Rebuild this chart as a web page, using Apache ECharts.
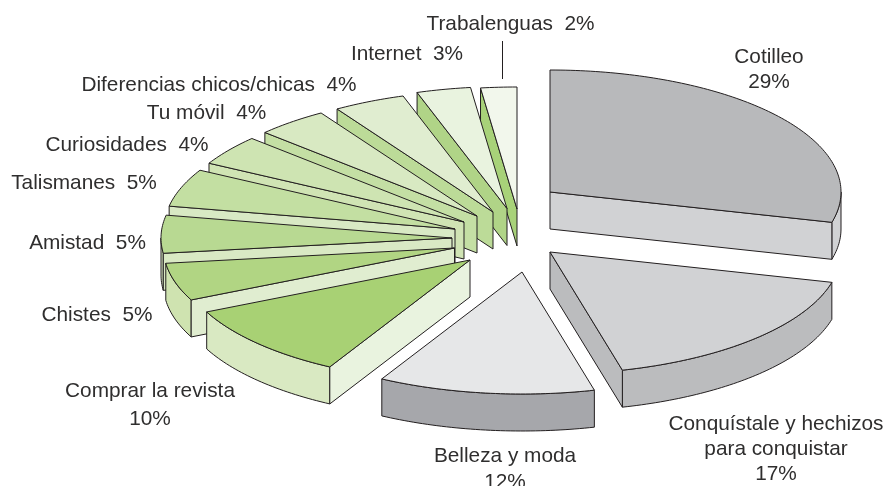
<!DOCTYPE html>
<html lang="es">
	<head>
		<meta charset="UTF-8">
		<title>pie</title>
		<style>
			html, body { margin: 0; padding: 0; background: #fff; }
		</style>
	</head>
	<body>
		<div id="chart" style="width:886px; height:486px"></div>
		<script src="https://cdn.jsdelivr.net/npm/echarts@6/dist/echarts.min.js"></script>
		<script>
			// porcentajes, empezando arriba y en sentido horario
			var categories = ['Cotilleo', 'Conquístale y hechizos para conquistar', 'Belleza y moda', 'Comprar la revista', 'Chistes', 'Amistad', 'Talismanes', 'Curiosidades', 'Tu móvil', 'Diferencias chicos/chicas', 'Internet', 'Trabalenguas'];
			var values = [29, 17, 12, 10, 5, 5, 5, 4, 4, 4, 3, 2];

			// textos tal como salen en el dibujo
			var labelLines = [
				['Cotilleo', '29%'],
				['Conquístale y hechizos', 'para conquistar', '17%'],
				['Belleza y moda', '12%'],
				['Comprar la revista', '10%'],
				['Chistes  5%'],
				['Amistad  5%'],
				['Talismanes  5%'],
				['Curiosidades  4%'],
				['Tu móvil  4%'],
				['Diferencias chicos/chicas  4%'],
				['Internet  3%'],
				['Trabalenguas  2%']
			];

			// colores: cara de arriba, corte visible, borde exterior
			var topColors = ['#b8b9bb', '#d1d2d4', '#e6e7e8', '#a8d174', '#b1d583', '#b8d992', '#c3dfa2', '#cee4b2', '#d8e9c2', '#e0edd0', '#e9f3df', '#f2f7ec'];
			var sideColors = ['#d1d2d4', '#bbbcbe', '#a6a7ab', '#e9f3df', '#e0edd0', '#d9e9c4', '#d8e9c4', '#d0e4b4', '#c4dfa4', '#bcdb98', '#b0d487', '#a8d279'];
			var rimColors = ['#d1d2d4', '#bbbcbe', '#a6a7ab', '#d9e9c2', '#cfe3b0', '#d9e9c4', '#d8e9c4', '#d0e4b4', '#c4dfa4', '#bcdb98', '#b0d487', '#a8d279'];

			// geometria de la tarta
			var pieCenter = [500, 230];
			var radiusX = 291;
			var radiusY = 122;
			var thickness = 37;
			var lineColor = '#231f20';
			// desplazamiento de cada porcion respecto al centro
			var explode = [[50, -38], [50, 22], [22, 42], [-30, 30], [-45.5, 18], [-48, 8], [-45, -1], [-36, -8], [-23, -14], [-7, -18], [7, -21.5], [17, -21]];

			// posicion de cada bloque de texto [x centro, y primera linea, salto de linea]
			var labelPos = [[769, 57, 25], [776, 424, 25], [505, 456, 26], [150, 391, 28], [97, 315, 0], [87.5, 243, 0], [84, 183, 0], [127, 145, 0], [206.5, 113, 0], [219, 85, 0], [407, 54, 0], [510.5, 24, 0]];
			var leader = { x: 502.5, y1: 41, y2: 79 };

			// angulo acumulado de cada porcion
			var total = values.reduce(function (a, b) { return a + b; }, 0);
			var startAngle = [];
			var acc = 0;
			values.forEach(function (v) {
				startAngle.push(acc / total * 360);
				acc += v;
			});

			function rimPoint(c, deg, dy) {
				var r = deg * Math.PI / 180;
				return [c[0] + radiusX * Math.sin(r), c[1] - radiusY * Math.cos(r) + (dy || 0)];
			}
			function arcPoints(c, from, to, dy) {
				var pts = [];
				var n = Math.max(2, Math.ceil(Math.abs(to - from)));
				for (var i = 0; i <= n; i++) {
					pts.push(rimPoint(c, from + (to - from) * i / n, dy));
				}
				return pts;
			}
			function face(points, color) {
				return {
					type: 'polygon',
					shape: { points: points },
					style: { fill: color, stroke: lineColor, lineWidth: 1, lineJoin: 'round' }
				};
			}
			// cara lateral de un corte recto
			function cutFace(c, deg, color) {
				var p = rimPoint(c, deg);
				return face([c, p, [p[0], p[1] + thickness], [c[0], c[1] + thickness]], color);
			}

			function renderSlice(params, api) {
				var i = api.value(0);
				var a0 = startAngle[i];
				var a1 = a0 + api.value(1) / total * 360;
				var c = [pieCenter[0] + explode[i][0], pieCenter[1] + explode[i][1]];
				var children = [];
				// borde exterior, solo la parte que mira hacia delante
				var f0 = Math.max(a0, 90);
				var f1 = Math.min(a1, 270);
				if (f1 > f0) {
					children.push(face(arcPoints(c, f0, f1).concat(arcPoints(c, f1, f0, thickness)), rimColors[i]));
				}
				if (Math.sin(a0 * Math.PI / 180) < -0.001) {
					children.push(cutFace(c, a0, sideColors[i]));
				}
				if (Math.sin(a1 * Math.PI / 180) > 0.001) {
					children.push(cutFace(c, a1, sideColors[i]));
				}
				children.push(face([c].concat(arcPoints(c, a0, a1)), topColors[i]));
				return { type: 'group', children: children };
			}

			// se dibuja de atras hacia delante: Trabalenguas primero
			var sliceData = values.map(function (v, i) { return [i, v, categories[i]]; }).reverse();

			var textElements = [];
			labelLines.forEach(function (lines, i) {
				lines.forEach(function (line, k) {
					textElements.push({
						type: 'text',
						x: labelPos[i][0],
						y: labelPos[i][1] + k * labelPos[i][2],
						style: {
							text: line,
							fill: '#2f2e2e',
							font: '20.8px "Liberation Sans"',
							align: 'center',
							verticalAlign: 'middle'
						}
					});
				});
			});
			textElements.push({
				type: 'line',
				shape: { x1: leader.x, y1: leader.y1, x2: leader.x, y2: leader.y2 },
				style: { stroke: lineColor, lineWidth: 1 }
			});

			var chart = echarts.init(document.getElementById('chart'));
			chart.setOption({
				animation: false,
				backgroundColor: '#fff',
				graphic: textElements,
				series: [{
					type: 'custom',
					coordinateSystem: 'none',
					renderItem: renderSlice,
					data: sliceData
				}]
			});
		</script>
	</body>
</html>
